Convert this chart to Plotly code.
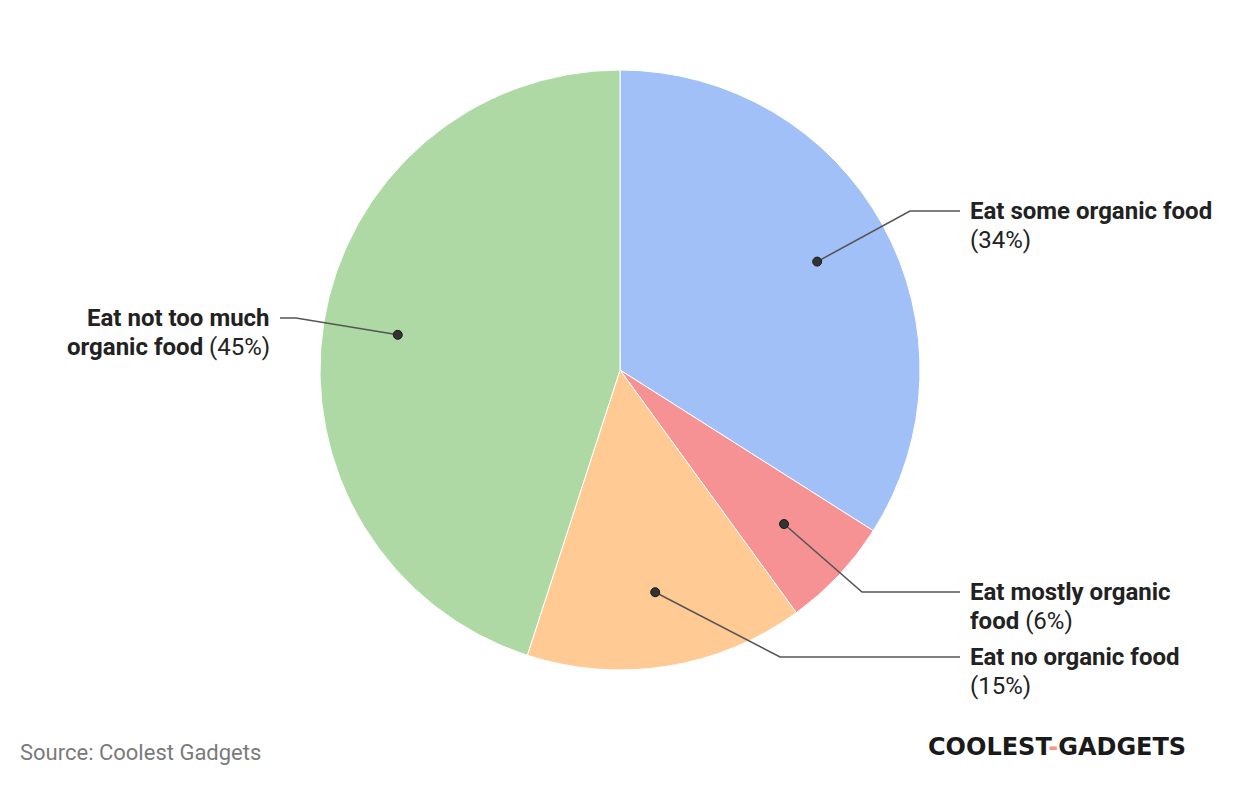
import math
import plotly.graph_objects as go

# ---- data ----
categories = ["Eat some organic food", "Eat mostly organic food",
              "Eat no organic food", "Eat not too much organic food"]
values = [34, 6, 15, 45]
colors = ["#A1C0F8", "#F69294", "#FFCA94", "#AED9A4"]
# label lines: (bold part, regular part) per line
label_lines = [
    [("Eat some organic food", ""), ("", "(34%)")],
    [("Eat mostly organic", ""), ("food", " (6%)")],
    [("Eat no organic food", ""), ("", "(15%)")],
    [("Eat not too much", ""), ("organic food", " (45%)")],
]

W, H = 1240, 786
OFF = 8  # page body margin
CX, CY, R = 620, 370, 300

# label layout: side, text x, first line y, elbow x
label_layout = [
    ("right", 968, 211, 910),
    ("right", 968, 592, 862),
    ("right", 968, 657, 780),
    ("left", 272, 318, 296),
]
LINE_GAP = 29

fig = go.Figure()
fig.add_trace(go.Pie(
    labels=categories, values=values, sort=False, direction="clockwise",
    rotation=0, marker=dict(colors=colors, line=dict(color="white", width=1)),
    textinfo="none", hoverinfo="label+percent", showlegend=False,
    domain=dict(x=[(CX - OFF - R) / W, (CX - OFF + R) / W],
                y=[(H - (CY - OFF) - R) / H, (H - (CY - OFF) + R) / H]),
))
fig.add_trace(go.Scatter(x=[OFF, W + OFF], y=[OFF, H + OFF], mode="markers",
                         marker=dict(opacity=0), hoverinfo="skip", showlegend=False))

total = sum(values)
cum = 0
shapes = []
annotations = []
for i, v in enumerate(values):
    mid = (cum + v / 2) / total * 2 * math.pi
    cum += v
    dx = CX + 0.75 * R * math.sin(mid)
    dy = CY - 0.75 * R * math.cos(mid)
    side, tx, ty, ex = label_layout[i]
    hend = 960 if side == "right" else 280
    shapes.append(dict(type="path", xref="x", yref="y", layer="above",
                       path=f"M {dx} {dy} L {ex} {ty} L {hend} {ty}",
                       line=dict(color="#555555", width=1.6)))
    shapes.append(dict(type="circle", xref="x", yref="y", layer="above",
                       x0=dx - 4.5, x1=dx + 4.5, y0=dy - 4.5, y1=dy + 4.5,
                       fillcolor="#333333", line=dict(color="#1a1a1a", width=1)))
    for j, (b, r) in enumerate(label_lines[i]):
        txt = (f"<b>{b}</b>" if b else "") + r
        annotations.append(dict(
            x=tx, y=ty + j * LINE_GAP, xref="x", yref="y", text=txt,
            showarrow=False, xanchor="left" if side == "right" else "right",
            yanchor="middle", font=dict(family="Roboto", size=24, color="#222222")))

annotations.append(dict(x=18, y=752, xref="x", yref="y", text="Source: Coolest Gadgets",
                        showarrow=False, xanchor="left", yanchor="middle",
                        font=dict(family="Roboto", size=22, color="#7a7a7a")))
annotations.append(dict(x=1188, y=747, xref="x", yref="y",
                        text="<b>COOLEST<span style='color:#F4978E'>-</span>GADGETS</b>",
                        showarrow=False, xanchor="right", yanchor="middle",
                        font=dict(family="DejaVu Sans", size=24, color="#1a1a1a")))

fig.update_layout(
    width=W, height=H, margin=dict(l=0, r=0, t=0, b=0),
    paper_bgcolor="white", plot_bgcolor="rgba(0,0,0,0)",
    xaxis=dict(range=[OFF, W + OFF], visible=False, fixedrange=True),
    yaxis=dict(range=[H + OFF, OFF], visible=False, fixedrange=True),
    shapes=shapes, annotations=annotations,
)
fig.write_html("out.html")
